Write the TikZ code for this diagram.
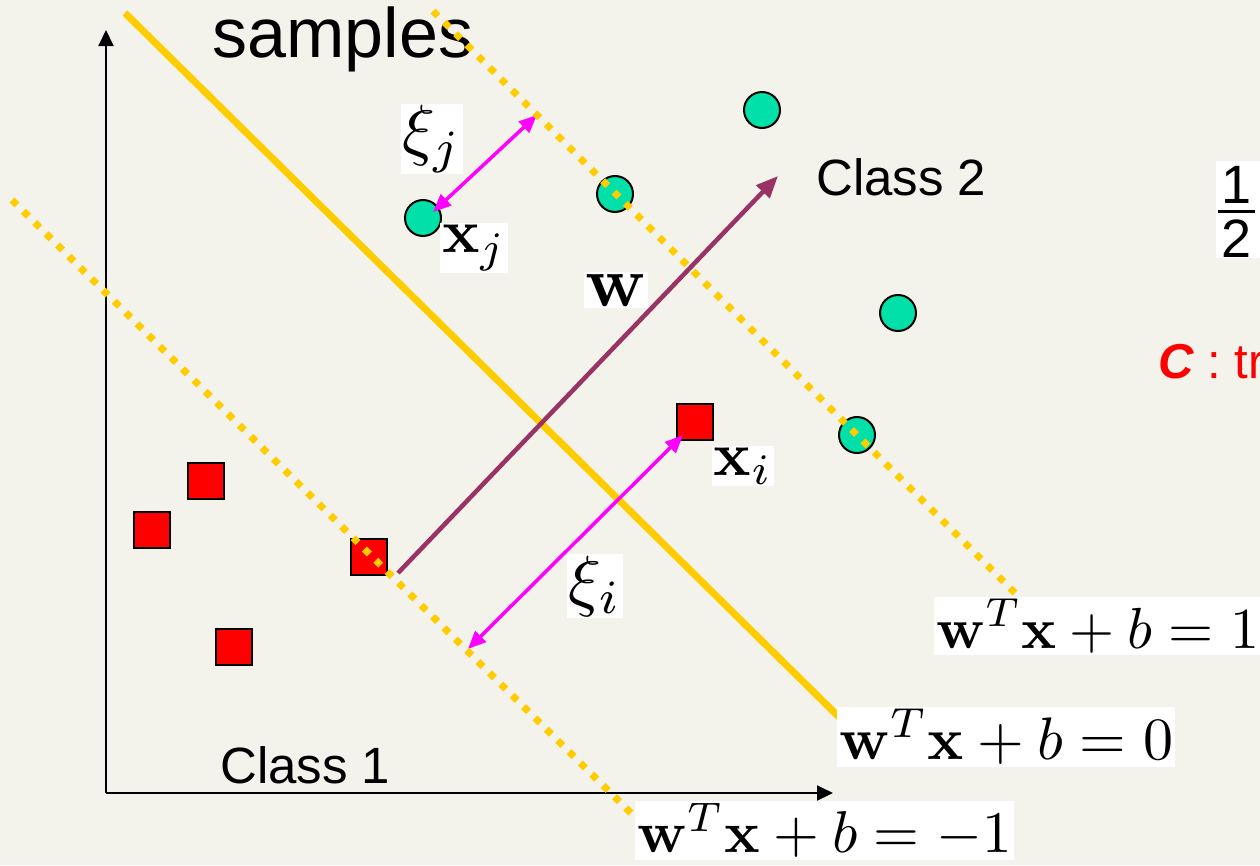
\documentclass[tikz,border=0pt]{standalone}
\usepackage[no-math]{fontspec}
\usepackage{graphicx}
\newfontfamily\sansf{Liberation Sans}
\newcommand\mth[2]{\scalebox{#1}{$#2$}}
\usetikzlibrary{arrows.meta}
\definecolor{bg}{HTML}{F3F2EB}
\definecolor{gold}{HTML}{FFCC00}
\definecolor{tealc}{HTML}{00E0A8}
\definecolor{wcol}{HTML}{993366}
\definecolor{mag}{HTML}{FF00FF}
\tikzset{
  axis/.style={draw=black,line width=2pt,-{Triangle[length=16pt,width=15pt]}},
  hyper/.style={draw=gold,line width=7pt},
  marginline/.style={draw=gold,line width=7pt,dash pattern=on 7pt off 9pt},
  cls2/.style={circle,draw=black,line width=2pt,fill=tealc,minimum size=36pt,inner sep=0pt},
  cls1/.style={rectangle,draw=black,line width=1.8pt,fill=red,minimum size=36pt,inner sep=0pt},
  slack/.style={draw=mag,line width=3.5pt,{Triangle[length=18pt,width=15pt]}-{Triangle[length=18pt,width=15pt]}},
  warrow/.style={draw=wcol,line width=4.5pt,-{Triangle[length=22pt,width=18pt]}},
  lab/.style={fill=white,inner sep=2pt},
  txt/.style={inner sep=0pt,font=\sansf\fontsize{51}{51}\selectfont},
  digit/.style={inner sep=0pt,anchor=base,font=\sansf\fontsize{54}{54}\selectfont}
}
\begin{document}
\begin{tikzpicture}[x=1pt,y=-1pt]
\useasboundingbox (0,0) rectangle (1260,865);
\clip (0,0) rectangle (1260,865);
\fill[bg] (0,0) rectangle (1260,865);

% axes
\coordinate (o) at (106,793);
\coordinate (ytip) at (106,30);
\coordinate (xtip) at (833,793);
\draw[axis] (o) -- (ytip);
\draw[axis] (o) -- (xtip);

% separating hyperplane
\coordinate (h0) at (125,13);
\coordinate (h1) at (840,718);
\draw[hyper] (h0) -- (h1);

% w arrow
\coordinate (w0) at (398,573);
\coordinate (w1) at (778,176);
\draw[warrow] (w0) -- (w1);

% samples text
\node[inner sep=0pt,anchor=base,font=\sansf\fontsize{70}{70}\selectfont] (samples) at (343,57) {samples};

% class 2 circles
\node[cls2] (c1) at (762,110) {};
\node[cls2] (c2) at (615,194) {};
\node[cls2] (cj) at (423,218) {};
\node[cls2] (c4) at (898,313) {};
\node[cls2] (c5) at (857,435) {};

% class 1 squares
\node[cls1] (s1) at (206,481) {};
\node[cls1] (s2) at (152,530) {};
\node[cls1] (s3) at (369,557) {};
\node[cls1] (s4) at (234,647) {};
\node[cls1] (si) at (695,422) {};

% slack arrows
\coordinate (xj0) at (537,115);
\coordinate (xj1) at (433,212);
\draw[slack] (xj0) -- (xj1);
\coordinate (xi0) at (683,435);
\coordinate (xi1) at (468,649);
\draw[slack] (xi0) -- (xi1);

% margin lines
\coordinate (p0) at (433,11);
\coordinate (p1) at (1022,600);
\draw[marginline] (p0) -- (p1);
\coordinate (m0) at (12,200);
\coordinate (m1) at (636,818);
\draw[marginline] (m0) -- (m1);

% class labels
\node[txt,anchor=base west] (cl2) at (816,195) {Class 2};
\node[txt,anchor=base west] (cl1) at (220,783) {Class 1};

% math labels
\node[lab] (lxj) at (432,139) {\mth{6.8}{\xi_j}};
\node[lab] (lx) at (474,248) {\mth{6.2}{\mathbf{x}_j}};
\node[lab] (lw) at (616,290) {\mth{7.2}{\mathbf{w}}};
\node[lab] (lxi) at (743,466) {\mth{6.2}{\mathbf{x}_i}};
\node[lab] (lxii) at (595,586) {\mth{6.8}{\xi_i}};

\node[lab,anchor=north west] (e0) at (837,707) {\mth{6.0}{\mathbf{w}^T\mathbf{x}+b=0}};
\node[lab,anchor=north west] (e1) at (934,597) {\mth{5.8}{\mathbf{w}^T\mathbf{x}+b=1}};
\node[lab,anchor=north west] (em) at (635,801) {\mth{5.9}{\mathbf{w}^T\mathbf{x}+b=-1}};

% right edge fragments: 1/2
\fill[white] (1216,161) rectangle (1265,258);
\node[digit] (one) at (1236,203) {1};
\node[digit] (two) at (1236,257) {2};
\draw[line width=3pt] (1218,211) -- (1255,211);
\node[inner sep=0pt,anchor=base west,text=red,font=\sansf\fontsize{49}{49}\selectfont] (ctr) at (1158,378)
  {\textbf{\textit{C}} : tr};
\end{tikzpicture}
\end{document}
